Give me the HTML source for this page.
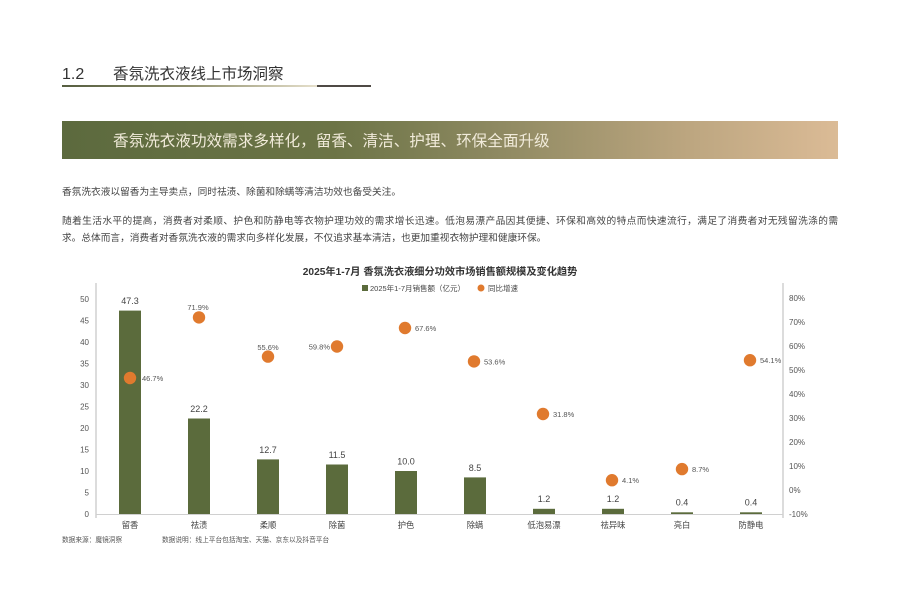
<!DOCTYPE html>
<html><head><meta charset="utf-8"><style>
html,body{margin:0;padding:0;background:#fff;}
svg{display:block;}
text{font-family:"Liberation Sans","Noto Sans CJK SC",sans-serif;}
</style></head><body>
<svg width="900" height="600" viewBox="0 0 900 600" xmlns="http://www.w3.org/2000/svg">
<defs>
<linearGradient id="ul" x1="0" x2="1" y1="0" y2="0">
<stop offset="0" stop-color="#565e40"/>
<stop offset="0.5" stop-color="#8e8e6c"/>
<stop offset="1" stop-color="#e6e0cc"/>
</linearGradient>
<linearGradient id="bn" x1="0" x2="1" y1="0" y2="0">
<stop offset="0" stop-color="#5c6a3e"/>
<stop offset="0.35" stop-color="#6c7446"/>
<stop offset="0.55" stop-color="#8c8860"/>
<stop offset="0.8" stop-color="#bba57f"/>
<stop offset="1" stop-color="#dbbb96"/>
</linearGradient>
</defs>

<!-- Header -->
<text x="62" y="79" font-size="16" fill="#333">1.2</text>
<text x="113" y="79" font-size="15.5" fill="#333">香氛洗衣液线上市场洞察</text>
<rect x="62" y="85" width="255" height="2" fill="url(#ul)"/>
<rect x="317" y="85" width="54" height="2" fill="#4f4a45"/>

<!-- Banner -->
<rect x="62" y="121" width="776" height="38" fill="url(#bn)"/>
<text x="113" y="146" font-size="15.6" fill="#f1ebda">香氛洗衣液功效需求多样化，留香、清洁、护理、环保全面升级</text>

<!-- Body text -->
<text x="62" y="195" font-size="9.7" fill="#444">香氛洗衣液以留香为主导卖点，同时祛渍、除菌和除螨等清洁功效也备受关注。</text>
<text x="62" y="224" font-size="9.7" fill="#444" textLength="776" lengthAdjust="spacing">随着生活水平的提高，消费者对柔顺、护色和防静电等衣物护理功效的需求增长迅速。低泡易漂产品因其便捷、环保和高效的特点而快速流行，满足了消费者对无残留洗涤的需</text>
<text x="62" y="241" font-size="9.7" fill="#444">求。总体而言，消费者对香氛洗衣液的需求向多样化发展，不仅追求基本清洁，也更加重视衣物护理和健康环保。</text>

<!-- Chart title & legend -->
<text x="440" y="275" font-size="10.2" font-weight="bold" fill="#333" text-anchor="middle">2025年1-7月 香氛洗衣液细分功效市场销售额规模及变化趋势</text>
<rect x="362" y="285" width="6" height="6" fill="#5b6b3c"/>
<text x="370" y="291" font-size="7.5" fill="#444">2025年1-7月销售额（亿元）</text>
<circle cx="481" cy="288" r="3.5" fill="#e07a2e"/>
<text x="488" y="291" font-size="7.5" fill="#444">同比增速</text>

<!-- Axes -->
<line x1="96" y1="283" x2="96" y2="518" stroke="#c4c4c4" stroke-width="1.2"/>
<line x1="783" y1="283" x2="783" y2="518" stroke="#c4c4c4" stroke-width="1.2"/>
<line x1="96" y1="514.5" x2="783" y2="514.5" stroke="#d0d0d0" stroke-width="1"/>

<!-- Left axis labels -->
<g font-size="8" fill="#555" text-anchor="end">
<text x="89" y="517">0</text>
<text x="89" y="495.5">5</text>
<text x="89" y="474">10</text>
<text x="89" y="452.5">15</text>
<text x="89" y="431">20</text>
<text x="89" y="409.5">25</text>
<text x="89" y="388">30</text>
<text x="89" y="366.5">35</text>
<text x="89" y="345">40</text>
<text x="89" y="323.5">45</text>
<text x="89" y="302">50</text>
</g>
<!-- Right axis labels -->
<g font-size="8" fill="#555">
<text x="789" y="517">-10%</text>
<text x="789" y="493">0%</text>
<text x="789" y="469">10%</text>
<text x="789" y="445">20%</text>
<text x="789" y="421">30%</text>
<text x="789" y="397">40%</text>
<text x="789" y="373">50%</text>
<text x="789" y="349">60%</text>
<text x="789" y="325">70%</text>
<text x="789" y="301">80%</text>
</g>

<!-- Bars -->
<g fill="#5b6b3c">
<rect x="119" y="310.6" width="22" height="203.4"/>
<rect x="188" y="418.5" width="22" height="95.5"/>
<rect x="257" y="459.4" width="22" height="54.6"/>
<rect x="326" y="464.5" width="22" height="49.5"/>
<rect x="395" y="471" width="22" height="43"/>
<rect x="464" y="477.4" width="22" height="36.6"/>
<rect x="533" y="508.8" width="22" height="5.2"/>
<rect x="602" y="508.8" width="22" height="5.2"/>
<rect x="671" y="512.3" width="22" height="1.7"/>
<rect x="740" y="512.3" width="22" height="1.7"/>
</g>
<!-- Bar values -->
<g font-size="9" fill="#444" text-anchor="middle">
<text x="130" y="304">47.3</text>
<text x="199" y="412">22.2</text>
<text x="268" y="453">12.7</text>
<text x="337" y="458">11.5</text>
<text x="406" y="464.5">10.0</text>
<text x="475" y="471">8.5</text>
<text x="544" y="502">1.2</text>
<text x="613" y="502">1.2</text>
<text x="682" y="505.5">0.4</text>
<text x="751" y="505.5">0.4</text>
</g>
<!-- Category labels -->
<g font-size="8.3" fill="#444" text-anchor="middle">
<text x="130" y="528">留香</text>
<text x="199" y="528">祛渍</text>
<text x="268" y="528">柔顺</text>
<text x="337" y="528">除菌</text>
<text x="406" y="528">护色</text>
<text x="475" y="528">除螨</text>
<text x="544" y="528">低泡易漂</text>
<text x="613" y="528">祛异味</text>
<text x="682" y="528">亮白</text>
<text x="751" y="528">防静电</text>
</g>

<!-- Dots -->
<g fill="#e07a2e">
<circle cx="130" cy="378" r="6.2"/>
<circle cx="199" cy="317.4" r="6.2"/>
<circle cx="268" cy="356.6" r="6.2"/>
<circle cx="337" cy="346.5" r="6.2"/>
<circle cx="405" cy="328" r="6.2"/>
<circle cx="474" cy="361.4" r="6.2"/>
<circle cx="543" cy="414" r="6.2"/>
<circle cx="612" cy="480.2" r="6.2"/>
<circle cx="682" cy="469.1" r="6.2"/>
<circle cx="750" cy="360.2" r="6.2"/>
</g>
<g font-size="7.5" fill="#555">
<text x="142" y="381">46.7%</text>
<text x="198" y="310" text-anchor="middle">71.9%</text>
<text x="268" y="350" text-anchor="middle">55.6%</text>
<text x="330" y="349.5" text-anchor="end">59.8%</text>
<text x="415" y="331">67.6%</text>
<text x="484" y="364.5">53.6%</text>
<text x="553" y="417">31.8%</text>
<text x="622" y="483">4.1%</text>
<text x="692" y="472">8.7%</text>
<text x="760" y="363">54.1%</text>
</g>

<!-- Footnotes -->
<text x="62" y="542" font-size="6.7" fill="#555">数据来源：魔镜洞察</text>
<text x="162" y="542" font-size="6.7" fill="#555">数据说明：线上平台包括淘宝、天猫、京东以及抖音平台</text>
</svg>
</body></html>
